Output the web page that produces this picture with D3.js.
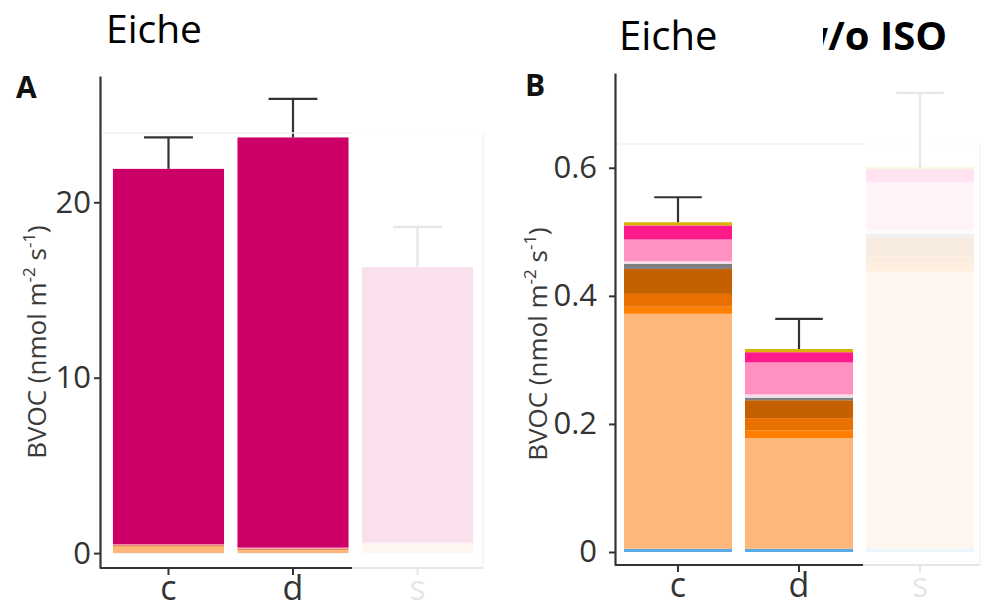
<!DOCTYPE html>
<html>
<head>
<meta charset="utf-8">
<script src="https://cdn.jsdelivr.net/npm/d3@7/dist/d3.min.js"></script>
<style>
  html, body { margin: 0; padding: 0; background: #fff; }
  svg { display: block; }
  text { font-family: "Open Sans", "Noto Sans", sans-serif; }
</style>
</head>
<body>
<svg id="chart" width="982" height="609"></svg>
<script>
// Treatments on the x axis
const categories = ["c", "d", "s"];

// Emission layers, bottom to top, one value per treatment (nmol m-2 s-1)
const layer01 = [0.005, 0.005, 0.005];
const layer02 = [0.367, 0.173, 0.433];
const layer03 = [0.011, 0.012, 0.012];
const layer04 = [0.020, 0.019, 0.0114];
const layer05 = [0.039, 0.028, 0.030];
const layer06 = [0.008, 0.004, 0.005];
const layer07 = [0.004, 0.005, 0.006];
const layer08 = [0.034, 0.050, 0.0755];
const layer09 = [0.022, 0.016, 0.020];
const layer10 = [0.005, 0.005, 0.003];
// Isoprene, only stacked in panel A
const isoprene = [21.39, 23.38, 15.70];

// Standard errors of the totals
const seA = [1.8, 2.2, 2.3];
const seB = [0.039, 0.047, 0.116];

const layerColors = ["#5aa9e6", "#fdb77a", "#ff7f00", "#e86f00", "#c46000",
                     "#7f7f7f", "#f4dcea", "#ff90c2", "#ff1a8c", "#d9b300"];
const isopreneColor = "#cc0066";

const ticksA = [0, 10, 20];
const tickLabelsA = ["0", "10", "20"];
const ticksB = [0, 0.2, 0.4, 0.6];
const tickLabelsB = ["0", "0.2", "0.4", "0.6"];

const layers = [layer01, layer02, layer03, layer04, layer05,
                layer06, layer07, layer08, layer09, layer10];
const layerKeys = layers.map((_, i) => "k" + (i + 1));

function buildRows(withIsoprene) {
  return categories.map((cat, j) => {
    const row = { cat };
    layers.forEach((arr, i) => { row[layerKeys[i]] = arr[j]; });
    if (withIsoprene) row.iso = isoprene[j];
    return row;
  });
}

const svg = d3.select("#chart");
const ink = "#333333";

function drawPanel(cfg) {
  const g = svg.append("g");
  const rows = buildRows(cfg.withIso);
  const keys = cfg.withIso ? layerKeys.concat(["iso"]) : layerKeys;
  const colors = cfg.withIso ? layerColors.concat([isopreneColor]) : layerColors;
  const color = d3.scaleOrdinal().domain(keys).range(colors);

  const x = d3.scaleBand().domain(categories)
    .range(cfg.xRange).paddingInner(cfg.padIn).paddingOuter(cfg.padOut);
  const y = d3.scaleLinear().domain(cfg.yDomain).range(cfg.yRange);

  const stacked = d3.stack().keys(keys)(rows);

  g.append("g").selectAll("g").data(stacked).join("g")
    .attr("fill", d => color(d.key))
    .selectAll("rect").data(d => d).join("rect")
    .attr("x", d => x(d.data.cat))
    .attr("width", x.bandwidth())
    .attr("y", d => y(d[1]))
    .attr("height", d => Math.max(0, y(d[0]) - y(d[1])));

  // error bars (upper whisker only)
  const totals = rows.map(r => d3.sum(keys, k => r[k]));
  const eb = g.append("g").attr("stroke", ink).attr("stroke-width", 2.2).attr("fill", "none");
  categories.forEach((cat, j) => {
    const cx = x(cat) + x.bandwidth() / 2;
    const hw = x.bandwidth() * 0.22;
    const y0 = y(totals[j]);
    const y1 = y(totals[j] + cfg.se[j]);
    eb.append("line").attr("x1", cx).attr("x2", cx).attr("y1", y0).attr("y2", y1);
    eb.append("line").attr("x1", cx - hw).attr("x2", cx + hw).attr("y1", y1).attr("y2", y1);
  });

  // y axis
  const ya = g.append("g").attr("transform", `translate(${cfg.axisX},0)`)
    .call(d3.axisLeft(y).tickValues(cfg.ticks).tickFormat((d, i) => cfg.tickLabels[i])
      .tickSizeOuter(0).tickSizeInner(6).tickPadding(cfg.yPad));
  ya.select(".domain").attr("stroke", ink).attr("stroke-width", 2.2);
  ya.selectAll(".tick line").attr("stroke", ink).attr("stroke-width", 2);
  ya.selectAll(".tick text").attr("fill", ink).attr("font-size", 31)
    .attr("font-family", "Open Sans");

  // x axis
  const xa = g.append("g").attr("transform", `translate(0,${cfg.axisY})`)
    .call(d3.axisBottom(x).tickSizeOuter(0).tickSizeInner(7).tickPadding(3));
  xa.select(".domain").attr("d", `M${cfg.axisX},0H${cfg.xEnd}`)
    .attr("stroke", ink).attr("stroke-width", 2.2);
  xa.selectAll(".tick line").attr("stroke", ink).attr("stroke-width", 2);
  xa.selectAll(".tick text").attr("fill", ink).attr("font-size", 34)
    .attr("font-family", "Open Sans").attr("dy", "0.64em");

  // y axis title
  const t = g.append("text")
    .attr("transform", `translate(${cfg.titleX},${cfg.titleY}) rotate(-90)`)
    .attr("text-anchor", "middle").attr("fill", "#3a3a3a").attr("font-size", 26);
  t.append("tspan").text("BVOC (nmol m");
  t.append("tspan").attr("font-size", 17).attr("dy", -11).text("-2");
  t.append("tspan").attr("dy", 11).text(" s");
  t.append("tspan").attr("font-size", 17).attr("dy", -11).text("-1");
  t.append("tspan").attr("dy", 11).text(")");

  // panel letter
  g.append("text").attr("x", cfg.letterX).attr("y", cfg.letterY)
    .attr("font-size", 30).attr("font-weight", 700).attr("fill", "#111")
    .text(cfg.letter);

  // third treatment shown faded
  g.append("line").attr("x1", cfg.axisX + 3).attr("x2", cfg.fadeX1)
    .attr("y1", cfg.faintY).attr("y2", cfg.faintY)
    .attr("stroke", "#f1f1f1").attr("stroke-width", 1.5);
  g.append("rect").attr("x", cfg.fadeX0).attr("y", cfg.fadeY0)
    .attr("width", cfg.fadeX1 - cfg.fadeX0).attr("height", 609 - cfg.fadeY0)
    .attr("fill", "#fff").attr("fill-opacity", 0.88);
  g.append("line").attr("x1", cfg.fadeX1).attr("x2", cfg.fadeX1)
    .attr("y1", cfg.faintY).attr("y2", cfg.axisY)
    .attr("stroke", "#f3f3f3").attr("stroke-width", 1.5);
}

drawPanel({
  withIso: true, se: seA,
  xRange: [100.5, 485.5], padIn: 0.108, padOut: 0.1,
  yDomain: [-0.85, 27.2], yRange: [568, 76],
  ticks: ticksA, tickLabels: tickLabelsA, yPad: 3,
  axisX: 100, axisY: 568, xEnd: 483,
  titleX: 46, titleY: 342,
  letter: "A", letterX: 16, letterY: 98,
  fadeX0: 352, fadeX1: 483, fadeY0: 90, faintY: 133
});

drawPanel({
  withIso: false, se: seB,
  xRange: [615.5, 982.5], padIn: 0.107, padOut: 0.07,
  yDomain: [-0.0203, 0.748], yRange: [565, 73],
  ticks: ticksB, tickLabels: tickLabelsB, yPad: 12,
  axisX: 615, axisY: 565, xEnd: 980,
  titleX: 547, titleY: 344,
  letter: "B", letterX: 525, letterY: 96,
  fadeX0: 863, fadeX1: 980, fadeY0: 62, faintY: 144
});

// Titles
svg.append("text").attr("x", 106).attr("y", 43).attr("font-size", 39)
  .attr("fill", "#000").text("Eiche");
svg.append("text").attr("x", 619).attr("y", 50).attr("font-size", 40)
  .attr("fill", "#000").text("Eiche");
svg.append("text").attr("x", 947).attr("y", 50).attr("font-size", 40)
  .attr("font-weight", 700).attr("text-anchor", "end")
  .attr("fill", "#000").text("w/o ISO");
// white box over the start of the bold caption
svg.append("rect").attr("x", 735).attr("y", 0).attr("width", 88).attr("height", 62)
  .attr("fill", "#fff");
</script>
</body>
</html>
